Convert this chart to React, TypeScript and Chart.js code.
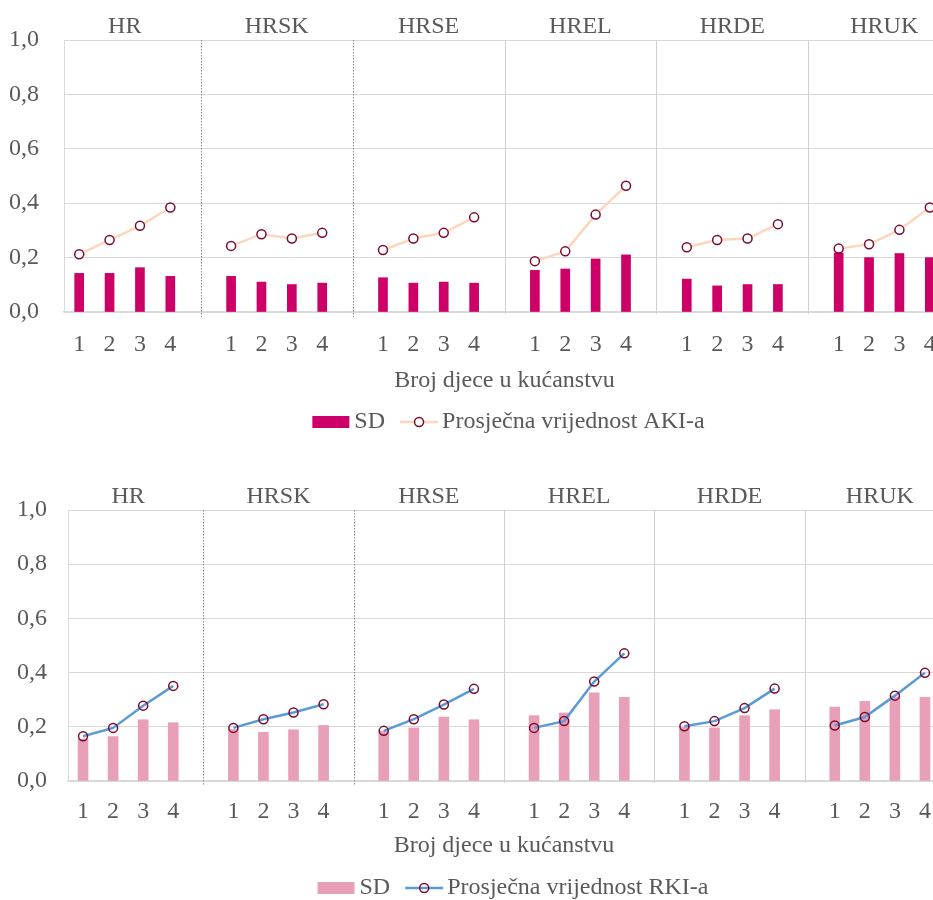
import React, { useEffect, useRef } from 'react';
import { Chart, registerables } from 'chart.js';

Chart.register(...registerables);

// ---------------- data ----------------
const groups = ['HR', 'HRSK', 'HRSE', 'HREL', 'HRDE', 'HRUK'];
const childCounts = ['1', '2', '3', '4'];
const yTickValues = [0, 0.2, 0.4, 0.6, 0.8, 1.0];

// AKI (top chart), 4 values per group in group order
const akiSD = [
  0.142, 0.142, 0.163, 0.131,
  0.131, 0.110, 0.101, 0.106,
  0.126, 0.106, 0.110, 0.106,
  0.153, 0.158, 0.195, 0.210,
  0.121, 0.096, 0.101, 0.101,
  0.217, 0.200, 0.215, 0.200,
];
const akiMean = [
  0.212, 0.265, 0.317, 0.384,
  0.243, 0.286, 0.270, 0.291,
  0.228, 0.270, 0.291, 0.348,
  0.187, 0.223, 0.358, 0.464,
  0.238, 0.265, 0.270, 0.323,
  0.233, 0.249, 0.302, 0.384,
];
// RKI (bottom chart)
const rkiSD = [
  0.155, 0.164, 0.226, 0.215,
  0.190, 0.180, 0.189, 0.205,
  0.183, 0.196, 0.236, 0.226,
  0.241, 0.251, 0.325, 0.309,
  0.198, 0.196, 0.241, 0.263,
  0.273, 0.294, 0.310, 0.309,
];
const rkiMean = [
  0.165, 0.196, 0.278, 0.351,
  0.196, 0.228, 0.253, 0.283,
  0.185, 0.228, 0.282, 0.340,
  0.196, 0.221, 0.367, 0.471,
  0.202, 0.221, 0.269, 0.341,
  0.205, 0.236, 0.315, 0.399,
];

const axisTitle = 'Broj djece u kućanstvu';
const sdLabel = 'SD';
const akiLabel = 'Prosječna vrijednost AKI-a';
const rkiLabel = 'Prosječna vrijednost RKI-a';

// ---------------- helpers ----------------
const FONT_FAMILY = '"Liberation Serif", "Times New Roman", serif';
const TEXT_COLOR = '#595959';
const GRID_COLOR = '#D9D9D9';
const MARKER_COLOR = '#7A0A2E';

// categories with one empty slot between groups
function spread<T>(values: T[], blank: T): T[] {
  const out: T[] = [];
  groups.forEach((_, gi) => {
    if (gi > 0) out.push(blank);
    childCounts.forEach((_, ci) => out.push(values[gi * childCounts.length + ci]));
  });
  return out;
}
const categoryLabels = spread(groups.flatMap(() => childCounts), '');
const slotsPerGroup = childCounts.length + 1;
const groupCenters = groups.map((_, gi) => gi * slotsPerGroup + (childCounts.length - 1) / 2);
const separatorDotted = [true, true, false, false, false];

const decorPlugin = {
  id: 'decor',
  beforeDatasetsDraw(chart: any) {
    const { ctx, chartArea } = chart;
    const x = chart.scales.x;
    let k = 0;
    categoryLabels.forEach((l, i) => {
      if (l !== '') return;
      const px = Math.round(x.getPixelForValue(i)) + 0.5;
      ctx.save();
      ctx.beginPath();
      if (separatorDotted[k]) {
        ctx.strokeStyle = '#8C8C8C';
        ctx.setLineDash([1.5, 1.5]);
      } else {
        ctx.strokeStyle = '#D0D0D0';
        ctx.setLineDash([]);
      }
      ctx.lineWidth = 1;
      ctx.moveTo(px, chartArea.top);
      ctx.lineTo(px, chartArea.bottom + (separatorDotted[k] ? 5 : 2));
      ctx.stroke();
      ctx.restore();
      k++;
    });
  },
  afterDraw(chart: any, _args: any, opts: any) {
    const { ctx, chartArea } = chart;
    ctx.save();
    ctx.font = `24px ${FONT_FAMILY}`;
    const sdW = ctx.measureText(sdLabel).width;
    const meanW = ctx.measureText(opts.meanLabel).width;
    const boxW = 37, boxH = 12, g1 = 5, g2 = 15, lineW = 38, g3 = 4;
    const total = boxW + g1 + sdW + g2 + lineW + g3 + meanW;
    const cx = (chartArea.left + chartArea.right) / 2 + opts.legendShift;
    const y = opts.legendY;
    let x = cx - total / 2;
    ctx.fillStyle = opts.barColor;
    ctx.fillRect(x, y - boxH / 2, boxW, boxH);
    x += boxW + g1;
    ctx.fillStyle = TEXT_COLOR;
    ctx.textAlign = 'left';
    ctx.textBaseline = 'middle';
    ctx.fillText(sdLabel, x, y);
    x += sdW + g2;
    ctx.beginPath();
    ctx.strokeStyle = opts.lineColor;
    ctx.lineWidth = 2.5;
    ctx.moveTo(x, y);
    ctx.lineTo(x + lineW, y);
    ctx.stroke();
    ctx.beginPath();
    ctx.arc(x + lineW / 2, y, 4.5, 0, Math.PI * 2);
    ctx.fillStyle = opts.pointFill;
    ctx.fill();
    ctx.strokeStyle = MARKER_COLOR;
    ctx.lineWidth = 1.5;
    ctx.stroke();
    x += lineW + g3;
    ctx.fillStyle = TEXT_COLOR;
    ctx.fillText(opts.meanLabel, x, y);
    ctx.restore();
  },
};

interface Params {
  sd: number[];
  mean: number[];
  meanLabel: string;
  barColor: string;
  lineColor: string;
  pointFill: string;
  barThickness: number;
  topH: number;
  topPad: number;
  xH: number;
  xPad: number;
  yW: number;
  yPad: number;
  padBottom: number;
  legendY: number;
  legendShift: number;
}

function makeConfig(p: Params): any {
  const font = { family: FONT_FAMILY, size: 24 };
  return {
    type: 'bar',
    data: {
      labels: categoryLabels,
      datasets: [
        {
          type: 'line',
          label: p.meanLabel,
          data: spread<number | null>(p.mean, null),
          borderColor: p.lineColor,
          borderWidth: 2.5,
          pointRadius: 4.5,
          pointBorderWidth: 1.5,
          pointBorderColor: MARKER_COLOR,
          pointBackgroundColor: p.pointFill,
          spanGaps: false,
          order: 0,
        },
        {
          type: 'bar',
          label: sdLabel,
          data: spread<number | null>(p.sd, null),
          backgroundColor: p.barColor,
          borderWidth: 0,
          barThickness: p.barThickness,
          order: 1,
        },
      ],
    },
    options: {
      responsive: false,
      animation: false,
      layout: { padding: { top: 0, left: 0, right: 0, bottom: p.padBottom } },
      plugins: {
        legend: { display: false },
        tooltip: { enabled: false },
        decor: {
          meanLabel: p.meanLabel,
          barColor: p.barColor,
          lineColor: p.lineColor,
          pointFill: p.pointFill,
          legendY: p.legendY,
          legendShift: p.legendShift,
        },
      },
      scales: {
        x: {
          type: 'category',
          position: 'bottom',
          offset: true,
          grid: { display: false },
          border: { display: true, color: GRID_COLOR, width: 1.5 },
          ticks: { autoSkip: false, maxRotation: 0, padding: p.xPad, color: TEXT_COLOR, font },
          title: { display: true, text: axisTitle, color: TEXT_COLOR, font, padding: 0 },
          afterFit(s: any) { s.height = p.xH; },
        },
        x2: {
          type: 'linear',
          position: 'top',
          bounds: 'data',
          offset: false,
          min: -0.5,
          max: categoryLabels.length - 0.5,
          grid: { display: false, offset: false },
          border: { display: false },
          afterBuildTicks(s: any) { s.ticks = groupCenters.map((v) => ({ value: v })); },
          ticks: {
            autoSkip: false,
            maxRotation: 0,
            padding: p.topPad,
            color: TEXT_COLOR,
            font,
            callback: (_v: any, i: number) => groups[i],
          },
          afterFit(s: any) { s.height = p.topH; },
        },
        y: {
          min: 0,
          max: 1,
          afterBuildTicks(s: any) { s.ticks = yTickValues.map((v) => ({ value: v })); },
          ticks: {
            padding: p.yPad,
            color: TEXT_COLOR,
            font,
            callback: (v: any) => Number(v).toFixed(1).replace('.', ','),
          },
          grid: { color: GRID_COLOR, lineWidth: 1, drawTicks: false },
          border: { display: true, color: GRID_COLOR, width: 1 },
          afterFit(s: any) { s.width = p.yW; },
        },
      },
    },
    plugins: [decorPlugin],
  };
}

function ChartCanvas({ config, width, height, top }: { config: any; width: number; height: number; top: number }) {
  const ref = useRef<HTMLCanvasElement | null>(null);
  useEffect(() => {
    const c = new Chart(ref.current as HTMLCanvasElement, config);
    return () => c.destroy();
  }, []);
  return (
    <canvas
      ref={ref}
      width={width}
      height={height}
      style={{ position: 'absolute', left: 0, top, width, height }}
    />
  );
}

export default function App() {
  const topConfig = makeConfig({
    sd: akiSD,
    mean: akiMean,
    meanLabel: akiLabel,
    barColor: '#CC0066',
    lineColor: '#FCD7BC',
    pointFill: '#FFFFFF',
    barThickness: 9,
    topH: 40,
    topPad: -9,
    xH: 83,
    xPad: 10,
    yW: 64,
    yPad: 25,
    padBottom: 55,
    legendY: 422,
    legendShift: 4,
  });
  const bottomConfig = makeConfig({
    sd: rkiSD,
    mean: rkiMean,
    meanLabel: rkiLabel,
    barColor: '#E8A0B8',
    lineColor: '#5B9BD5',
    pointFill: 'rgba(255,255,255,0)',
    barThickness: 10,
    topH: 45,
    topPad: -9,
    xH: 79,
    xPad: 8,
    yW: 68,
    yPad: 21,
    padBottom: 40,
    legendY: 423,
    legendShift: 9,
  });
  return (
    <div
      style={{
        position: 'fixed',
        left: 0,
        top: 0,
        width: 933,
        height: 900,
        overflow: 'hidden',
        background: '#FFFFFF',
      }}
    >
      <ChartCanvas config={topConfig} width={951} height={450} top={0} />
      <ChartCanvas config={bottomConfig} width={946} height={435} top={465} />
    </div>
  );
}
